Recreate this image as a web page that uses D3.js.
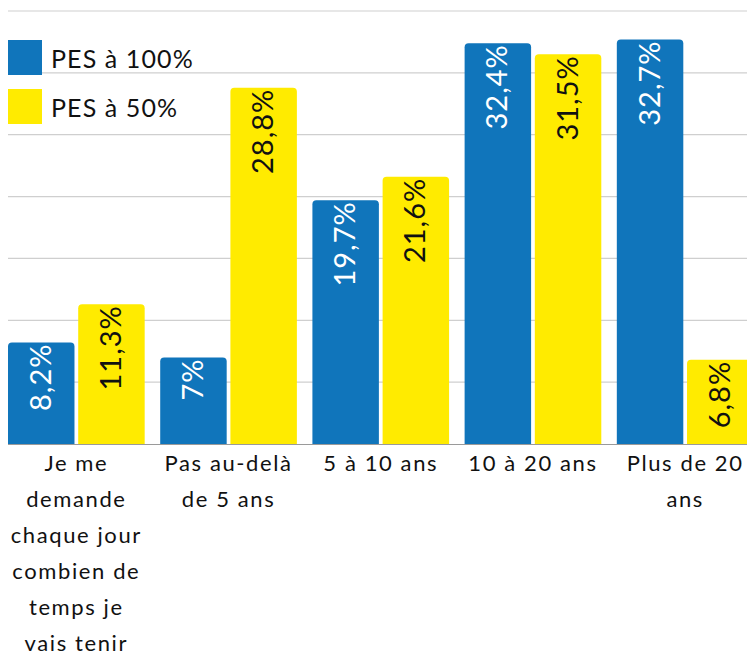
<!DOCTYPE html>
<html>
<head>
<meta charset="utf-8">
<script src="https://cdn.jsdelivr.net/npm/d3@7"></script>
<style>
  html, body { margin: 0; padding: 0; background: #fff; }
  svg { display: block; font-family: Lato, "Open Sans", sans-serif; }
</style>
</head>
<body>
<svg id="chart" width="747" height="655"></svg>
<script>
// Categories (wrapped label lines) and series values, in percent
const categories = [
  "Je me demande chaque jour combien de temps je vais tenir",
  "Pas au-delà de 5 ans",
  "5 à 10 ans",
  "10 à 20 ans",
  "Plus de 20 ans"
];
const categoryLines = [
  ["Je me", "demande", "chaque jour", "combien de", "temps je", "vais tenir"],
  ["Pas au-delà", "de 5 ans"],
  ["5 à 10 ans"],
  ["10 à 20 ans"],
  ["Plus de 20", "ans"]
];
const seriesNames = ["PES à 100%", "PES à 50%"];
const pes100 = [8.2, 7, 19.7, 32.4, 32.7];
const pes50 = [11.3, 28.8, 21.6, 31.5, 6.8];
const valueLabels100 = ["8,2%", "7%", "19,7%", "32,4%", "32,7%"];
const valueLabels50 = ["11,3%", "28,8%", "21,6%", "31,5%", "6,8%"];
const gridTicks = [0, 5, 10, 15, 20, 25, 30, 35];

const colors = { "PES à 100%": "#1075bb", "PES à 50%": "#ffeb00" };
const labelColors = { "PES à 100%": "#ffffff", "PES à 50%": "#111111" };

const svg = d3.select("#chart");
const left = 8, baseY = 444;

const y = d3.scaleLinear().domain([0, 35]).range([baseY, 11]);
const x0 = d3.scaleBand().domain(categories).range([left, 753.5])
  .paddingInner(0.102).paddingOuter(0);
const x1 = d3.scaleBand().domain(seriesNames).range([0, x0.bandwidth()])
  .paddingInner(0.053).paddingOuter(0);

// Horizontal gridlines
svg.append("g").selectAll("line")
  .data(gridTicks.filter(t => t > 0))
  .join("line")
  .attr("x1", left).attr("x2", 747)
  .attr("y1", d => y(d)).attr("y2", d => y(d))
  .attr("stroke", "#cfcfcf").attr("stroke-width", 1.2);

const rows = categories.map((c, i) => ({
  cat: c,
  values: [
    { s: seriesNames[0], v: pes100[i], label: valueLabels100[i] },
    { s: seriesNames[1], v: pes50[i], label: valueLabels50[i] }
  ]
}));

// Bar with rounded top corners
function barPath(x, w, top, bottom, r) {
  r = Math.min(r, (bottom - top), w / 2);
  return `M${x},${bottom}V${top + r}Q${x},${top} ${x + r},${top}` +
    `H${x + w - r}Q${x + w},${top} ${x + w},${top + r}V${bottom}Z`;
}

const groups = svg.append("g").selectAll("g")
  .data(rows).join("g")
  .attr("transform", d => `translate(${x0(d.cat)},0)`);

groups.selectAll("path")
  .data(d => d.values).join("path")
  .attr("d", d => barPath(x1(d.s), x1.bandwidth(), y(d.v), y(0), 4))
  .attr("fill", d => colors[d.s]);

groups.selectAll("text.val")
  .data(d => d.values).join("text")
  .attr("class", "val")
  .attr("transform", d => `translate(${x1(d.s) + x1.bandwidth() / 2 - 1},${y(d.v) + 1}) rotate(-90)`)
  .attr("text-anchor", "end")
  .attr("dy", "0.36em")
  .attr("font-size", 29)
  .attr("letter-spacing", 1)
  .attr("fill", d => labelColors[d.s])
  .text(d => d.label);

// Baseline
svg.append("line")
  .attr("x1", left).attr("x2", 747)
  .attr("y1", baseY + 0.5).attr("y2", baseY + 0.5)
  .attr("stroke", "#9a9a9a").attr("stroke-width", 1.2);

// Category labels
const catG = svg.append("g").selectAll("text")
  .data(categories).join("text")
  .attr("x", d => x0(d) + x0.bandwidth() / 2)
  .attr("y", 471)
  .attr("text-anchor", "middle")
  .attr("font-size", 22)
  .attr("letter-spacing", 1.6)
  .attr("fill", "#111");
catG.each(function (d, i) {
  const t = d3.select(this);
  categoryLines[i].forEach((line, k) => {
    t.append("tspan")
      .attr("x", x0(d) + x0.bandwidth() / 2)
      .attr("dy", k === 0 ? 0 : 36)
      .text(line);
  });
});

// Legend
const legend = svg.append("g").selectAll("g")
  .data(seriesNames).join("g")
  .attr("transform", (d, i) => `translate(8,${40 + i * 49})`);
legend.append("rect")
  .attr("width", 34).attr("height", 35)
  .attr("fill", d => colors[d]);
legend.append("text")
  .attr("x", 43).attr("y", 28)
  .attr("font-size", 25)
  .attr("letter-spacing", 1.1)
  .attr("fill", "#111")
  .text(d => d);
</script>
</body>
</html>
